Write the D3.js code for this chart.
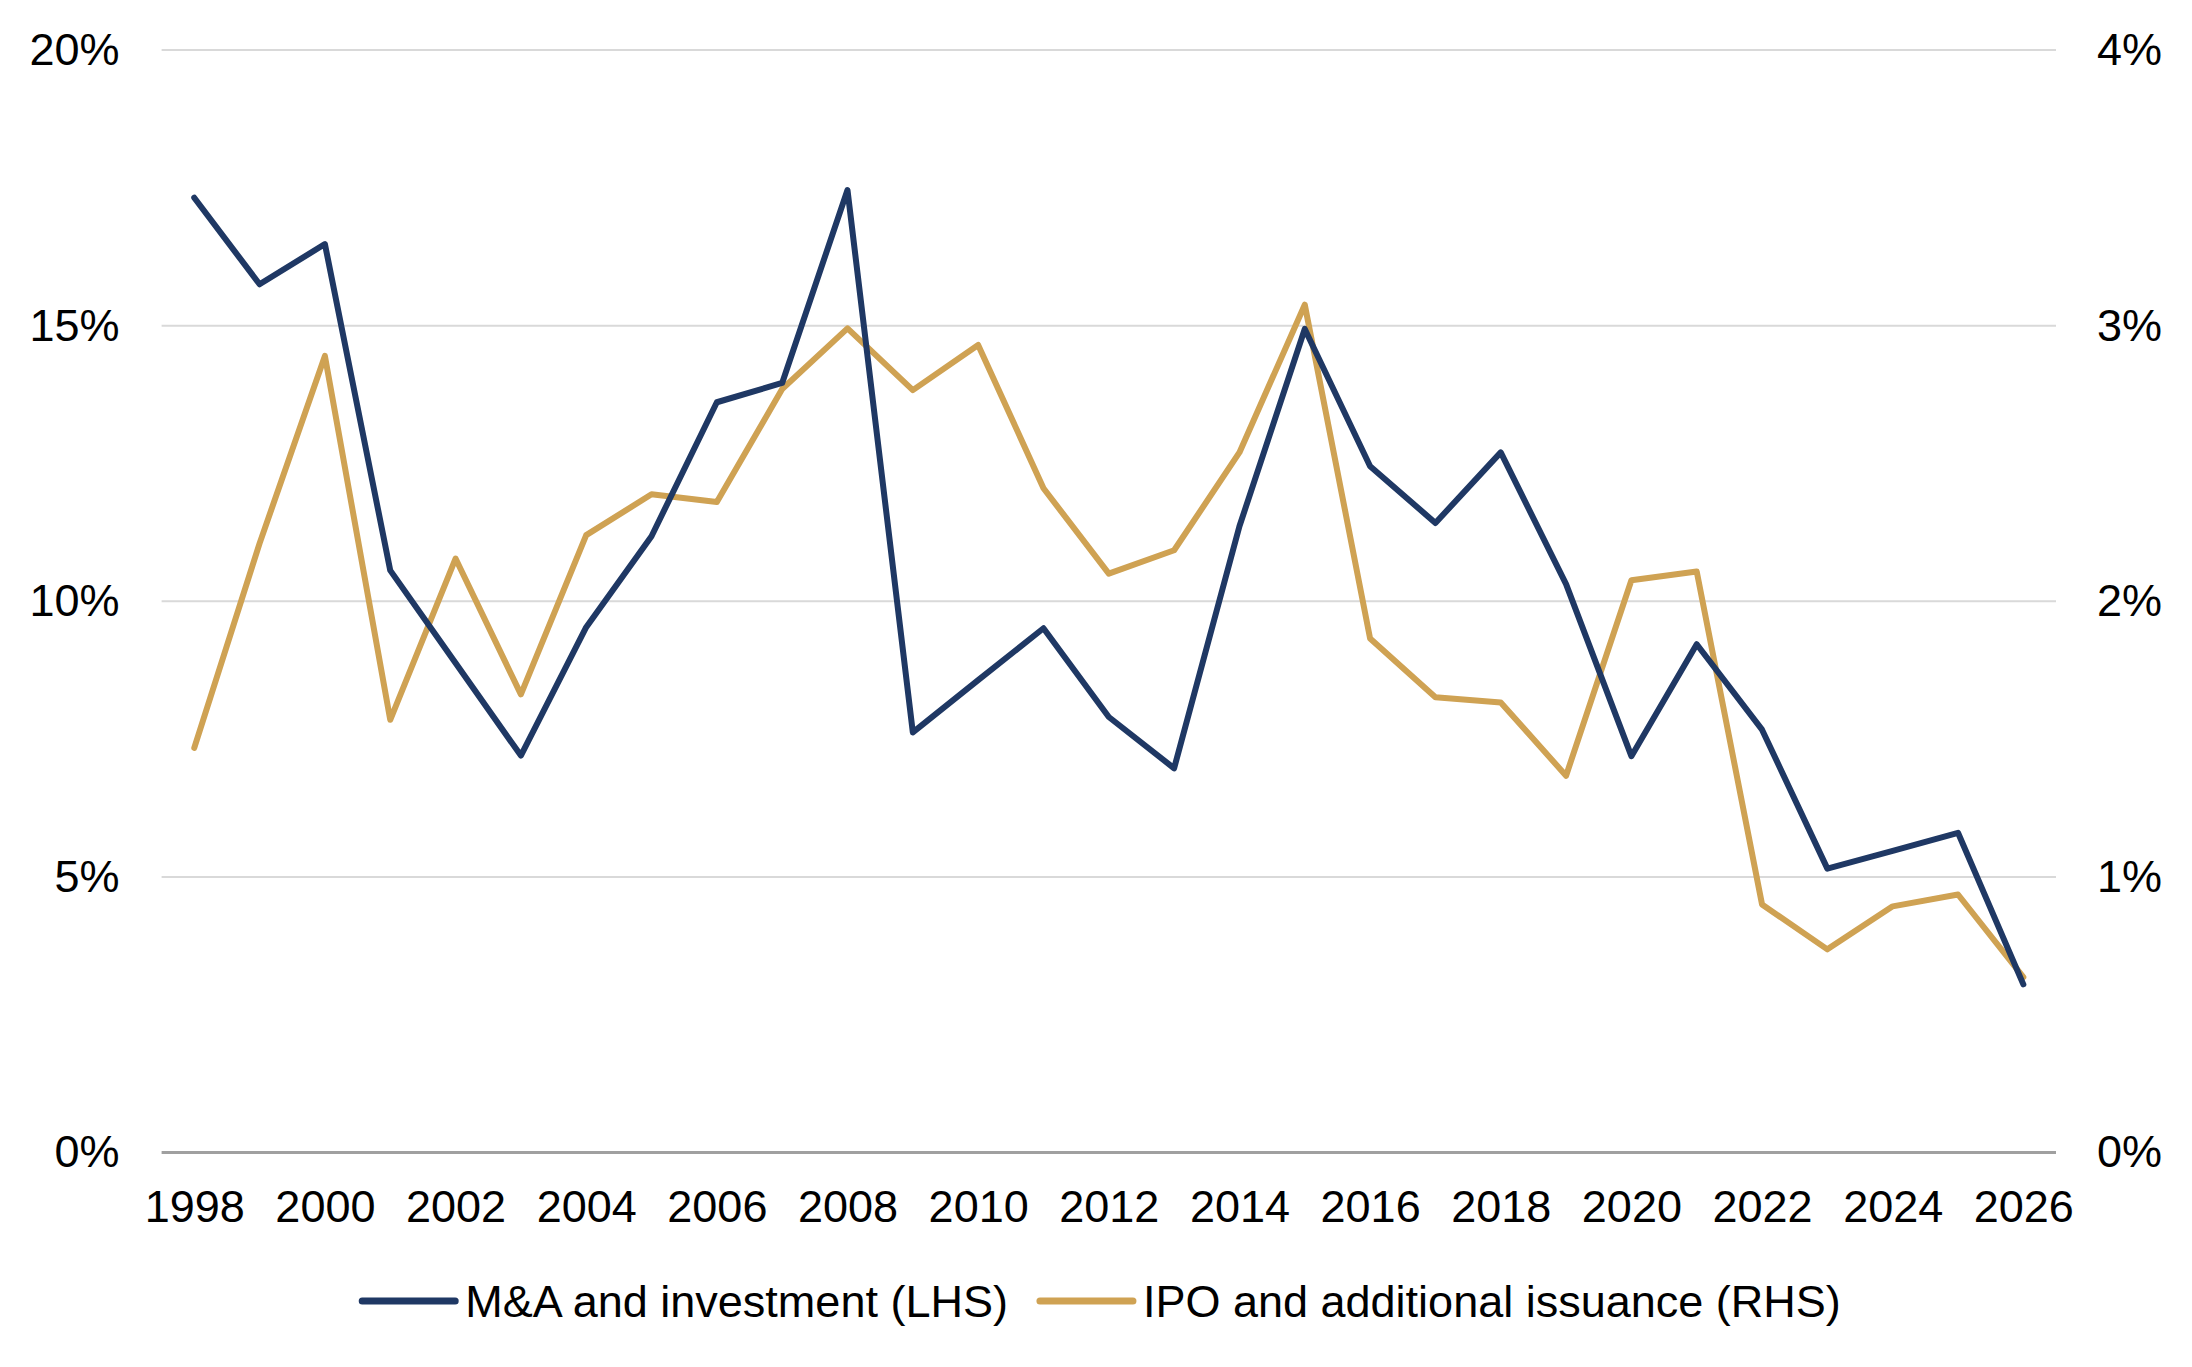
<!DOCTYPE html>
<html>
<head>
<meta charset="utf-8">
<script src="https://cdn.jsdelivr.net/npm/d3@7"></script>
<style>
    body { margin: 0; background: #fff; }
    svg text { font-family: "Liberation Sans", Arial, sans-serif; fill: #000; }
</style>
</head>
<body>
<div id="chart"></div>
<script>
// Years on the x axis, every other one labelled
const years = d3.range(1998, 2027);
const xTickYears = d3.range(1998, 2027, 2);

// M&A and investment, % (left axis)
const maValues = [
    17.32, 15.75, 16.48, 10.56, 8.88, 7.20, 9.53, 11.18, 13.61, 13.96,
    17.46, 7.62, 8.57, 9.51, 7.90, 6.97, 11.36, 14.94, 12.45, 11.42,
    12.70, 10.31, 7.19, 9.22, 7.67, 5.15, 5.47, 5.80, 3.05
];

// IPO and additional issuance, % (right axis)
const ipoValues = [
    1.468, 2.21, 2.89, 1.57, 2.155, 1.662, 2.24, 2.388, 2.36, 2.77,
    2.99, 2.766, 2.93, 2.41, 2.10, 2.185, 2.54, 3.076, 1.865, 1.652,
    1.633, 1.367, 2.076, 2.108, 0.90, 0.737, 0.893, 0.936, 0.636
];

const leftTicks = [0, 5, 10, 15, 20];
const rightTicks = [0, 1, 2, 3, 4];

const seriesNames = ['M&A and investment (LHS)', 'IPO and additional issuance (RHS)'];
const seriesColors = ['#1f3864', '#cfa253'];

const width = 2192;
const height = 1367;
const margin = { top: 50, right: 136, bottom: 214.5, left: 161.6 };
const chartWidth = width - margin.left - margin.right;
const chartHeight = height - margin.top - margin.bottom;

const svg = d3.select('#chart').append('svg')
    .attr('width', width)
    .attr('height', height);

const g = svg.append('g')
    .attr('transform', `translate(${margin.left},${margin.top})`);

// Scales
const xScale = d3.scalePoint()
    .domain(years)
    .range([0, chartWidth])
    .padding(0.5);

const yLeft = d3.scaleLinear()
    .domain([0, 20])
    .range([chartHeight, 0]);

const yRight = d3.scaleLinear()
    .domain([0, 4])
    .range([chartHeight, 0]);

// Gridlines
g.append('g')
    .selectAll('line')
    .data(leftTicks.filter(d => d > 0))
    .enter()
    .append('line')
    .attr('x1', 0)
    .attr('x2', chartWidth)
    .attr('y1', d => yLeft(d))
    .attr('y2', d => yLeft(d))
    .attr('stroke', '#d9d9d9')
    .attr('stroke-width', 2);

// Axes
const leftAxis = g.append('g')
    .call(d3.axisLeft(yLeft).tickValues(leftTicks).tickSize(0).tickPadding(42)
        .tickFormat(d => d + '%'));

const rightAxis = g.append('g')
    .attr('transform', `translate(${chartWidth},0)`)
    .call(d3.axisRight(yRight).tickValues(rightTicks).tickSize(0).tickPadding(41)
        .tickFormat(d => d + '%'));

const xAxis = g.append('g')
    .attr('transform', `translate(0,${chartHeight})`)
    .call(d3.axisBottom(xScale).tickValues(xTickYears).tickSize(0).tickPadding(37.5));

[leftAxis, rightAxis, xAxis].forEach(a => {
    a.select('.domain').remove();
    a.selectAll('text')
        .attr('font-size', 45)
        .attr('font-family', '"Liberation Sans", Arial, sans-serif')
        .attr('fill', '#000');
});

// Baseline
g.append('line')
    .attr('x1', 0)
    .attr('x2', chartWidth)
    .attr('y1', yLeft(0))
    .attr('y2', yLeft(0))
    .attr('stroke', '#a0a0a0')
    .attr('stroke-width', 3);

// Lines
const lineLeft = d3.line()
    .x((d, i) => xScale(years[i]))
    .y(d => yLeft(d));

const lineRight = d3.line()
    .x((d, i) => xScale(years[i]))
    .y(d => yRight(d));

g.append('path')
    .datum(ipoValues)
    .attr('d', lineRight)
    .attr('fill', 'none')
    .attr('stroke', seriesColors[1])
    .attr('stroke-width', 6)
    .attr('stroke-linejoin', 'round')
    .attr('stroke-linecap', 'round');

g.append('path')
    .datum(maValues)
    .attr('d', lineLeft)
    .attr('fill', 'none')
    .attr('stroke', seriesColors[0])
    .attr('stroke-width', 6)
    .attr('stroke-linejoin', 'round')
    .attr('stroke-linecap', 'round');

// Legend
const legend = svg.append('g');
const legendY = 1301;
const swatch = 93;
const gap = 10;
const itemGap = 32;

const items = legend.selectAll('.item')
    .data(seriesNames)
    .enter()
    .append('g')
    .attr('class', 'item');

items.append('line')
    .attr('x1', 0)
    .attr('x2', swatch)
    .attr('y1', legendY)
    .attr('y2', legendY)
    .attr('stroke', (d, i) => seriesColors[i])
    .attr('stroke-width', 7)
    .attr('stroke-linecap', 'round');

items.append('text')
    .attr('x', swatch + gap)
    .attr('y', legendY + 16)
    .attr('font-size', 45)
    .text(d => d);

// lay the items out side by side and centre them
let offset = 0;
const widths = [];
items.each(function() {
    const w = swatch + gap + d3.select(this).select('text').node().getComputedTextLength();
    widths.push(w);
});
const total = d3.sum(widths) + itemGap * (widths.length - 1);
let start = 1101.5 - total / 2;
items.attr('transform', (d, i) => {
    const x = start + offset;
    offset += widths[i] + itemGap;
    return `translate(${x},0)`;
});
</script>
</body>
</html>
